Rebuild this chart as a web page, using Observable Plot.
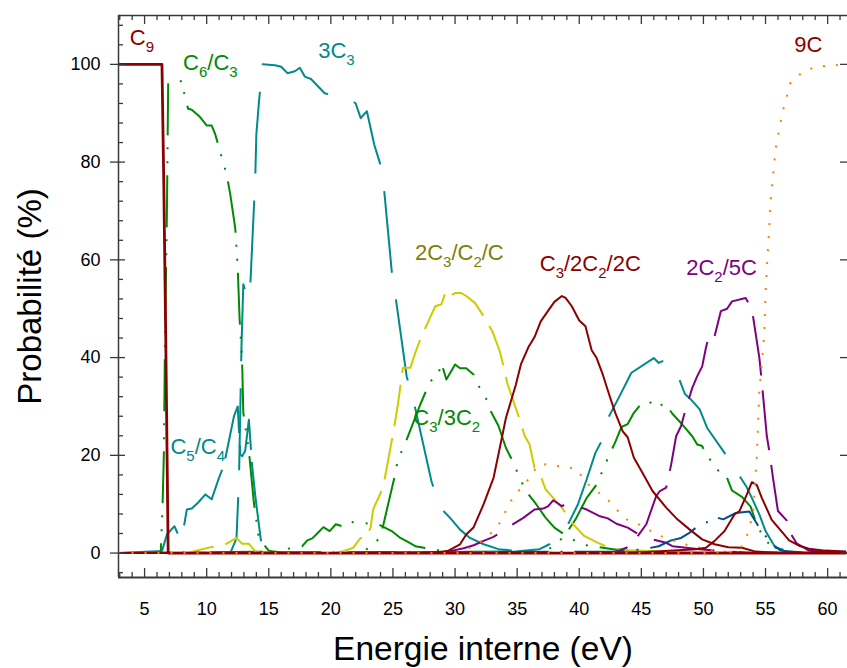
<!DOCTYPE html>
<html><head><meta charset="utf-8">
<script src="https://cdn.jsdelivr.net/npm/d3@7"></script>
<script src="https://cdn.jsdelivr.net/npm/@observablehq/plot@0.6"></script>
<style>body{margin:0;background:#fff;}</style>
</head><body><div id="chart"></div>
<script>
// ---- data (energy in eV, probability in %) ----
const c9X = [2.9, 6.4, 6.55, 6.7, 6.9, 61.5];
const c9Y = [100, 100, 75, 45, 0, 0];

const c6c3X = [2.9, 6.3, 6.45, 6.55, 6.65, 6.8, 6.9, 7.6, 8.0, 8.2, 8.5, 8.8, 9.4, 10.0, 10.4, 10.7, 11.0, 11.3, 11.6, 11.9, 12.3, 12.5, 12.65, 12.85, 12.95, 13.4, 13.8, 14.2, 15, 16, 61.5];
const c6c3Y = [0, 0, 10, 20, 45, 70, 96, 96, 96.7, 94, 90.9, 90.7, 89.4, 87.5, 87.5, 85.6, 82.9, 80.2, 77.6, 73.4, 66.5, 58.3, 48, 39.6, 28.7, 20.9, 10.3, 3, 0.5, 0, 0];

const c5c4X = [2.9, 6.4, 6.8, 7.4, 7.7, 8.2, 8.4, 8.8, 9.3, 9.9, 10.4, 10.95, 11.4, 11.9, 12.2, 12.5, 12.7, 12.85, 13.1, 13.4, 13.65, 13.9, 14.1, 14.5, 61.5];
const c5c4Y = [0, 0.4, 3.8, 5.5, 3.8, 5.9, 8.9, 9.1, 10.3, 12, 11, 15.1, 18.1, 24.3, 28, 30, 20.2, 19.8, 20.9, 27.3, 18.1, 12, 7.9, 0, 0];

const c3x3X = [2.9, 11.9, 12.4, 12.6, 12.8, 12.95, 13.3, 13.5, 13.8, 13.9, 14.0, 14.2, 14.4, 14.5, 15.5, 16.0, 16.5, 17.1, 17.5, 17.9, 18.4, 19.5, 21.7, 22.0, 22.4, 22.9, 23.5, 24.0, 24.3, 24.9, 25.2, 26.1, 26.7, 28.1, 28.8, 29.6, 30.4, 31.2, 32.3, 33.5, 35, 36.5, 38, 61.5];
const c3x3Y = [0, 0, 3, 15, 42, 55, 52, 54, 70.6, 75.7, 85.7, 92, 97.5, 100, 99.8, 99.5, 98.2, 98.6, 99.3, 97.5, 97, 94.1, 92.6, 92, 89, 90.4, 83.5, 79.4, 74, 57.7, 52.6, 36.2, 30.7, 14.7, 9.3, 7.2, 4.8, 3.1, 1.8, 0.8, 0.4, 0.2, 0, 0];

const greenAX = [2.9, 16, 16.7, 17.7, 18.1, 18.5, 18.9, 19.4, 19.9, 20.4, 20.9, 21.4, 21.8, 22.8, 23.8, 24.9, 25.6, 26.2, 26.8, 27.7, 28.8, 30, 32, 61.5];
const greenAY = [0, 0.3, 1, 1.4, 2.6, 3, 4, 5.3, 4.5, 5.9, 5.5, 6.5, 6.3, 6.1, 5.9, 4.5, 3.1, 2.3, 1.4, 1.0, 0.5, 0.2, 0, 0];

const c3c2cX = [2.9, 8.5, 9.0, 10.3, 11.4, 12.4, 12.85, 13.4, 13.9, 14.5, 20.3, 20.9, 21.8, 22.4, 22.8, 23.2, 23.4, 23.7, 24.2, 24.4, 25.0, 25.4, 25.8, 26.4, 26.8, 27.3, 27.8, 28.4, 28.9, 29.3, 29.8, 30.0, 30.5, 30.9, 31.6, 32.4, 33.0, 33.6, 34.0, 34.2, 35.3, 35.6, 36.0, 36.4, 36.9, 37.3, 37.9, 38.6, 39.5, 40.4, 41.5, 42.4, 44, 47, 50, 61.5];
const c3c2cY = [0, 0, 0.4, 1.2, 1.6, 3.1, 1.9, 1.9, 0.4, 0, 0, 0.3, 1.1, 3.1, 3.1, 5.2, 8.9, 10.6, 13.4, 16.1, 24.3, 30.4, 37.9, 37.9, 41, 44.4, 47.1, 50.5, 50.9, 53.9, 52.9, 53.2, 53.2, 52.6, 51.2, 48.1, 45.4, 41.3, 37.2, 34.8, 26.6, 24, 22.2, 17.4, 15.7, 13, 11.3, 9.3, 5.9, 3.5, 2.1, 1.1, 0.6, 0.3, 0.1, 0];

const c33c2X = [2.9, 22, 23.1, 23.9, 24.2, 25.2, 25.4, 25.9, 26.3, 27.2, 28.0, 28.6, 28.9, 29.3, 30.0, 30.4, 30.9, 31.5, 31.9, 32.5, 32.9, 33.5, 34.1, 34.7, 35.2, 35.7, 36.5, 37.3, 38.0, 38.8, 39.6, 40.6, 41.6, 42.7, 44, 46, 61.5];
const c33c2Y = [0, 0, 1, 3, 5.5, 16.4, 19.2, 21.9, 24.5, 30.4, 35.2, 36.1, 38.9, 35.5, 38.6, 37.8, 37.8, 36.5, 34.2, 31.6, 28.9, 26, 21.5, 18.5, 15.4, 12.7, 10.1, 7.2, 5.2, 3.8, 2.6, 1.6, 1.2, 0.8, 0.4, 0.1, 0];

const c32c2X = [2.9, 28, 29.4, 30.4, 30.9, 31.5, 32.3, 33.1, 33.6, 34.1, 34.9, 35.3, 35.9, 36.4, 36.9, 37.5, 38.0, 38.6, 38.9, 39.4, 40.0, 40.5, 41.0, 41.4, 41.9, 42.4, 42.9, 43.5, 43.9, 44.4, 45.1, 45.9, 47.0, 47.9, 48.9, 49.9, 50.9, 52.0, 53.1, 54.2, 56, 61.5];
const c32c2Y = [0, 0, 0.4, 1.8, 3.8, 5.3, 10, 15.4, 21.5, 27.7, 34.5, 38.6, 42.1, 44.2, 47.4, 49.6, 51.4, 52.6, 52.2, 50.5, 47.6, 46.4, 41.5, 39.9, 36.5, 32.5, 28.7, 24.9, 23.7, 19.5, 16.4, 12.7, 9.3, 6.9, 4.8, 2.8, 1.8, 1.2, 1.1, 0.3, 0.1, 0];

const purpleAX = [2.9, 28.5, 29.6, 30.7, 31.5, 32.3, 33.1, 34.4, 35.5, 36.4, 37.1, 37.5, 37.9, 38.6, 39.1, 40.6, 41.6, 42.3, 43.0, 43.9, 44.8, 45.4, 47.0, 47.5, 48.6, 49.7, 50.9, 52, 54, 61.5];
const purpleAY = [0, 0, 0.4, 1, 1.6, 2.5, 3.3, 5.5, 7.2, 8.9, 9.1, 9.6, 10.8, 9.6, 10.2, 8.9, 7.6, 7.1, 6.0, 5.2, 3.8, 3.1, 2.1, 1.4, 1.1, 0.8, 0.5, 0.3, 0, 0];

const orangeAX = [2.9, 30, 31, 32, 33, 33.7, 34.2, 34.8, 35.6, 36.2, 36.9, 37.8, 38.7, 39.8, 40.4, 41.2, 42.1, 43, 44, 45.1, 46.2, 47.3, 48.3, 49.4, 50.5, 52, 55, 61.5];
const orangeAY = [0, 0, 0.8, 2.2, 4.3, 6.5, 9.3, 12, 13.9, 16.4, 18.3, 17.9, 17.7, 17.2, 14.9, 12.9, 11.5, 8.9, 6.5, 5.6, 3.8, 2.8, 1.9, 1.2, 0.7, 0.2, 0, 0];

const tealBX = [2.9, 34.9, 36.8, 37.6, 38.4, 39.1, 39.9, 40.6, 41.3, 41.8, 42.4, 43.1, 44.2, 46.0, 46.4, 46.9, 47.4, 48.0, 48.5, 49.0, 49.7, 50.3, 51.7, 52.1, 52.5, 53.0, 53.5, 53.9, 54.5, 55.0, 55.8, 57, 61.5];
const tealBY = [0, 0.3, 0.8, 1.8, 3.8, 5.9, 10, 15.1, 20.5, 22.9, 28, 31.4, 36.9, 39.9, 38.9, 39.5, 37.6, 35.9, 32.6, 31.4, 29.4, 25.6, 20.5, 19.2, 17.1, 15.4, 13.4, 11.3, 7.9, 4.5, 1.1, 0.3, 0];

const greenCX = [2.9, 37, 38, 38.8, 39.7, 40.6, 41.4, 41.95, 42.4, 42.9, 43.4, 43.9, 44.4, 44.95, 45.4, 45.9, 46.4, 46.9, 47.5, 48.3, 49.1, 49.5, 49.9, 50.3, 50.9, 51.4, 51.9, 52.3, 53.1, 53.8, 54.2, 54.7, 55.5, 56.8, 58, 61.5];
const greenCY = [0, 0, 1.5, 3.5, 6.9, 11.3, 14, 17.3, 20, 22.7, 25.8, 26.4, 28.7, 30.4, 30.1, 31.1, 30.0, 30.7, 28.5, 26.3, 23.9, 22.2, 21.9, 19.5, 18.5, 15.7, 15.4, 12.8, 11.5, 9.5, 6.5, 3.8, 1.1, 0.2, 0, 0];

const c25cX = [2.9, 41, 42.7, 43.8, 44.6, 45.4, 46.2, 46.5, 47.0, 47.4, 47.8, 48.2, 48.6, 49.1, 49.5, 49.9, 50.2, 50.5, 50.9, 51.4, 51.9, 52.3, 53.4, 53.9, 54.5, 54.7, 55.1, 55.3, 55.6, 56.0, 56.7, 56.9, 57.5, 58.5, 61.5];
const c25cY = [0, 0, 0.1, 1.1, 3.1, 5.9, 11.7, 12.7, 13.4, 18.1, 23.9, 26, 29.7, 33.8, 36.2, 38.2, 42, 45, 44.4, 49.5, 50, 51.5, 52.2, 50, 40, 35, 24, 20.9, 15.4, 8.6, 6.7, 4.5, 2, 0.5, 0];

const blueX = [2.9, 43, 45.2, 46.4, 47.4, 48.2, 48.9, 49.4, 49.9, 50.5, 50.9, 51.6, 52.6, 53.7, 54.5, 55.5, 56.3, 58, 61.5];
const blueY = [0, 0.3, 0.8, 1.4, 2.6, 3.1, 4.2, 5.2, 6, 6.5, 7.4, 6.9, 8.2, 8.5, 5.2, 1.8, 0.5, 0.1, 0];

const redBX = [2.9, 44, 49.4, 50.2, 50.9, 51.7, 52.5, 52.9, 53.5, 53.9, 54.3, 54.7, 55.5, 56.1, 56.9, 57.7, 58.5, 59.8, 61.5];
const redBY = [0, 0, 0.8, 1.1, 2.5, 4.5, 7.9, 8.6, 12, 14.5, 13.9, 11.3, 6.8, 5, 2.6, 1.5, 0.9, 0.5, 0.3];

const c9cX = [2.9, 50, 52.5, 53.0, 53.5, 54.0, 54.3, 54.5, 54.7, 54.9, 55.0, 55.15, 55.3, 55.4, 55.6, 55.8, 56.0, 56.2, 56.4, 56.7, 56.95, 57.95, 59.0, 60.1, 61.5];
const c9cY = [0, 0, 0.3, 1, 3.5, 8, 20, 33, 38.9, 45, 53, 60.4, 66.5, 72, 77, 82.5, 85.3, 88, 90.6, 93.3, 96, 98.4, 99.5, 99.7, 100];

// ---- axis ticks ----
const xMajor = [5, 10, 15, 20, 25, 30, 35, 40, 45, 50, 55, 60];
const xMinor = d3.range(3, 62).filter(v => v % 5 !== 0);
const yMajor = [0, 20, 40, 60, 80, 100];
const yMinor = d3.range(-4, 110, 4).filter(v => v % 20 !== 0);

// ---- labels ----
const labelText = ["C_9", "C_6/C_3", "3C_3", "2C_3/C_2/C", "C_3/2C_2/2C", "2C_2/5C", "9C", "C_3/3C_2", "C_5/C_4"];
const labelX = [3.81, 8.10, 18.98, 26.77, 36.82, 48.61, 57.32, 26.64, 7.08];
const labelY = [103.9, 98.9, 101.3, 60.0, 57.8, 56.9, 102.6, 26.3, 20.3];
const labelColor = ["#8b0000", "#008a00", "#008a8a", "#808000", "#8b0000", "#800080", "#8b0000", "#008a00", "#008a8a"];

// ---- styles ----
const C = {red: "#8b0000", green: "#008a00", teal: "#008a8a", yellow: "#cccc00", purple: "#800080", orange: "#ff8000", blue: "#004c99"};
const dashDot2 = "52,12,2,12,2,12";
const series = [
  {x: c3x3X, y: c3x3Y, color: C.teal, dash: "82,27", off: 22, w: 2},
  {x: c5c4X, y: c5c4Y, color: C.teal, dash: "80,12", off: 0, w: 2},
  {x: tealBX, y: tealBY, color: C.teal, dash: "88,27", off: 0, w: 2},
  {x: c6c3X, y: c6c3Y, color: C.green, dash: dashDot2, off: 0, w: 2},
  {x: greenAX, y: greenAY, color: C.green, dash: dashDot2, off: 0, w: 2},
  {x: c33c2X, y: c33c2Y, color: C.green, dash: dashDot2, off: 0, w: 2},
  {x: greenCX, y: greenCY, color: C.green, dash: dashDot2, off: 0, w: 2},
  {x: c3c2cX, y: c3c2cY, color: C.yellow, dash: "42,12", off: 0, w: 2},
  {x: purpleAX, y: purpleAY, color: C.purple, dash: "62,18", off: 0, w: 2},
  {x: c25cX, y: c25cY, color: C.purple, dash: "60,15", off: 0, w: 2},
  {x: blueX, y: blueY, color: C.blue, dash: "50,12,2,12", off: 0, w: 2},
  {x: orangeAX, y: orangeAY, color: C.orange, dash: "2,11", off: 0, w: 2},
  {x: redBX, y: redBY, color: C.red, dash: null, off: 0, w: 2},
  {x: c32c2X, y: c32c2Y, color: C.red, dash: null, off: 0, w: 2},
  {x: c9X, y: c9Y, color: C.red, dash: null, off: 0, w: 2.8},
  {x: c9cX, y: c9cY, color: C.orange, dash: "2,11", off: 0, w: 2}
];

const pts = s => s.x.map((x, i) => ({x, y: s.y[i]}));
const labels = labelText.map((t, i) => ({t, x: labelX[i], y: labelY[i], c: labelColor[i]}));

const W = 847, H = 668, mT = 15, mL = 118, mR = 0, mB = 91;
const plotW = W - mL - mR, plotH = H - mT - mB;
const axisColor = "#3a3a3a";

const chart = Plot.plot({
  width: W, height: H,
  marginTop: mT, marginLeft: mL, marginRight: mR, marginBottom: mB,
  x: {domain: [2.9, 61.6], axis: null},
  y: {domain: [-5, 110], axis: null},
  style: {fontFamily: "'Liberation Sans', Arial, sans-serif", background: "#fff", color: "#000"},
  marks: [
    ...series.map(s => Plot.line(pts(s), {x: "x", y: "y", stroke: s.color, strokeWidth: s.w,
      strokeDasharray: s.dash, strokeDashoffset: s.off, strokeLinejoin: "round", strokeLinecap: "butt"})),
    // frame
    Plot.ruleX([2.9], {stroke: axisColor, strokeWidth: 1.5}),
    Plot.ruleY([110], {stroke: axisColor, strokeWidth: 1.5}),
    Plot.ruleY([-5], {stroke: axisColor, strokeWidth: 2}),
    // x ticks (inward, bottom and top)
    Plot.ruleX(xMajor, {insetTop: plotH - 9, stroke: axisColor, strokeWidth: 1.3}),
    Plot.ruleX(xMinor, {insetTop: plotH - 5, stroke: axisColor, strokeWidth: 1.3}),
    Plot.ruleX(xMajor, {insetBottom: plotH - 9, stroke: axisColor, strokeWidth: 1.3}),
    Plot.ruleX(xMinor, {insetBottom: plotH - 5, stroke: axisColor, strokeWidth: 1.3}),
    // y ticks
    Plot.ruleY(yMajor, {insetLeft: -8, insetRight: plotW - 7, stroke: axisColor, strokeWidth: 1.3}),
    Plot.ruleY(yMinor, {insetRight: plotW - 5, stroke: axisColor, strokeWidth: 1.3}),
    Plot.ruleY(yMajor, {insetLeft: plotW - 7, stroke: axisColor, strokeWidth: 1.3}),
    // tick labels
    Plot.axisX(xMajor, {anchor: "bottom", tickSize: 0, tickPadding: 25, fontSize: 18, label: null, fill: "#000"}),
    Plot.axisY(yMajor, {anchor: "left", tickSize: 0, tickPadding: 18, fontSize: 18, label: null, fill: "#000"}),
    // axis titles
    Plot.text(["Energie interne (eV)"], {frameAnchor: "bottom", dy: 82, text: d => d, fontSize: 33.5, fill: "#000", lineAnchor: "bottom", textAnchor: "middle"}),
    Plot.text(["Probabilité (%)"], {frameAnchor: "left", dx: -88, rotate: -90, text: d => d, fontSize: 33, fill: "#000", textAnchor: "middle", lineAnchor: "middle"}),
    // series labels
    Plot.text(labels, {x: "x", y: "y", text: "t", fill: "c", fontSize: 22, textAnchor: "start", lineAnchor: "bottom"})
  ]
});

// render subscripts (C_9 -> C with subscript 9)
d3.select(chart).selectAll("text")
  .filter(function() { return this.textContent.includes("_"); })
  .each(function() {
    const raw = this.textContent;
    const el = d3.select(this);
    el.text(null);
    const parts = raw.split(/(_\d)/).filter(p => p.length);
    let shifted = false;
    parts.forEach(p => {
      if (p.startsWith("_")) {
        el.append("tspan").attr("font-size", 15).attr("dy", shifted ? 0 : 7).text(p.slice(1));
        shifted = true;
      } else {
        const t = el.append("tspan").text(p);
        if (shifted) { t.attr("dy", -7); shifted = false; }
      }
    });
  });

document.getElementById("chart").appendChild(chart);
</script>
</body></html>
